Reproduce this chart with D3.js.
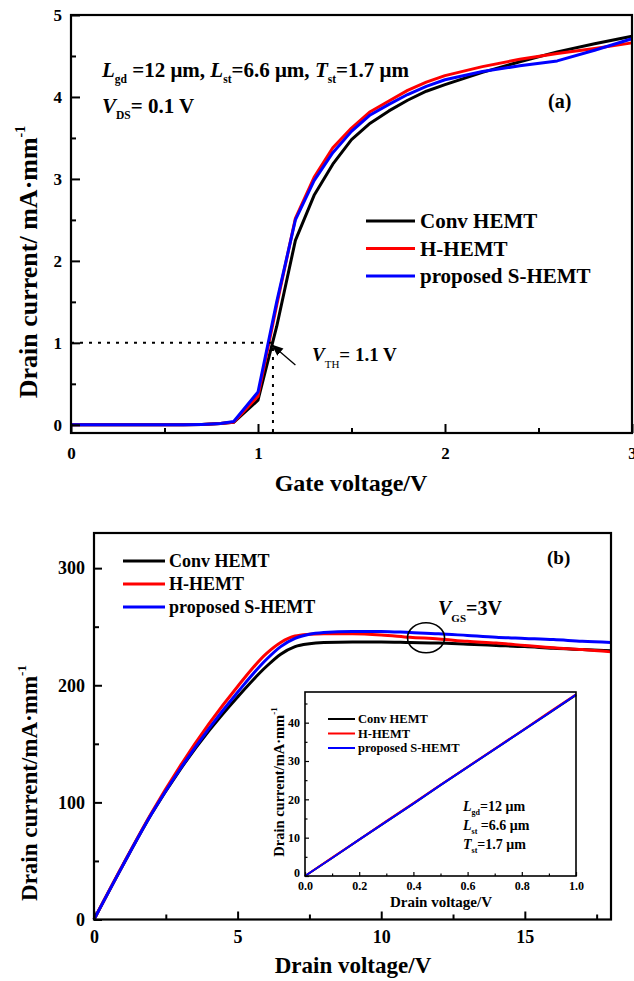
<!DOCTYPE html>
<html>
<head>
<meta charset="utf-8">
<script src="https://cdn.jsdelivr.net/npm/d3@7"></script>
<style>
  html, body { margin: 0; padding: 0; background: #fff; }
  svg { display: block; }
  text { font-family: "Liberation Serif", "Times New Roman", serif; font-weight: bold; fill: #000; }
</style>
</head>
<body>
<svg id="fig" width="634" height="981"></svg>
<script>
// ---- series names ----
const seriesNames = ["Conv HEMT", "H-HEMT", "proposed S-HEMT"];

// ---- (a) transfer characteristics, V_DS = 0.1 V ----
const gateVoltage = [0, 0.2, 0.4, 0.6, 0.7, 0.8, 0.87, 1.0, 1.1, 1.2, 1.3, 1.4, 1.5, 1.6, 1.7, 1.8, 1.9, 2.0, 2.2, 2.4, 2.6, 2.8, 3.0];
const transferConv = [0, 0, 0, 0, 0.005, 0.015, 0.03, 0.30, 1.20, 2.25, 2.80, 3.18, 3.48, 3.68, 3.83, 3.96, 4.07, 4.15, 4.30, 4.43, 4.55, 4.65, 4.74];
const transferH    = [0, 0, 0, 0, 0.005, 0.015, 0.03, 0.35, 1.46, 2.52, 3.02, 3.38, 3.62, 3.82, 3.95, 4.08, 4.18, 4.26, 4.37, 4.46, 4.53, 4.59, 4.66];
const transferS    = [0, 0, 0, 0, 0.005, 0.015, 0.04, 0.40, 1.50, 2.50, 2.98, 3.32, 3.58, 3.78, 3.91, 4.03, 4.13, 4.21, 4.31, 4.38, 4.44, 4.57, 4.71];
const gateTicks = [0, 1, 2, 3];
const transferTicks = [0, 1, 2, 3, 4, 5];
const thresholdV = 1.08;   // V_TH read at 1 mA/mm
const thresholdI = 1;

// ---- (b) output characteristics, V_GS = 3 V ----
const drainVoltage = [0, 1, 2, 3, 4, 5, 6, 6.5, 7, 7.5, 8, 9, 10, 11, 12, 13, 14, 15, 16, 17, 18];
const outputConv = [0, 46, 90, 128, 161, 190, 216, 226.5, 233, 235.5, 236.5, 237, 237, 236.5, 236, 235, 234, 233, 231.5, 230.5, 229.5];
const outputH    = [0, 46.5, 91, 131, 167, 199, 227, 236.5, 242, 243.5, 244, 244, 243, 241, 239.5, 237.5, 236, 234, 232, 230.5, 228.5];
const outputS    = [0, 46, 90, 128.5, 163, 194, 222, 233, 240, 243.5, 245, 246, 246, 245, 244, 242.5, 241, 240, 239, 237.5, 236.5];
const drainTicks = [0, 5, 10, 15];
const outputTicks = [0, 100, 200, 300];

// ---- (b) inset: linear region ----
const insetVoltage = [0, 0.1, 0.2, 0.3, 0.4, 0.5, 0.6, 0.7, 0.8, 0.9, 1.0];
const insetConv = [0, 4.7, 9.5, 14.2, 18.9, 23.7, 28.4, 33.1, 37.8, 42.5, 47.2];
const insetH    = [0, 4.8, 9.5, 14.3, 19.0, 23.8, 28.5, 33.2, 37.9, 42.7, 47.4];
const insetS    = [0, 4.7, 9.5, 14.2, 18.9, 23.7, 28.4, 33.1, 37.8, 42.5, 47.3];
const insetXTicks = [0, 0.2, 0.4, 0.6, 0.8, 1.0];
const insetYTicks = [0, 10, 20, 30, 40];

const lineColors = ["#000000", "#ff0000", "#0000ff"];

const svg = d3.select("#fig");

// Text made of runs: n = normal, i = italic, b = subscript, p = superscript
function richText(parent, x, y, runs, size, opts = {}) {
  const t = parent.append("text").attr("x", x).attr("y", y).attr("font-size", size);
  if (opts.anchor) t.attr("text-anchor", opts.anchor);
  if (opts.transform) t.attr("transform", opts.transform);
  let shift = 0;
  const subSize = opts.subSize || Math.round(size * 0.58);
  const subDy = opts.subDy || size * 0.3;
  const supDy = opts.supDy || -size * 0.45;
  runs.forEach(([str, kind]) => {
    const s = t.append("tspan").text(str);
    let target = 0;
    if (kind === "b") { target = subDy; s.attr("font-size", subSize); if (opts.subWeight) s.attr("font-weight", opts.subWeight); }
    else if (kind === "p") { target = supDy; s.attr("font-size", subSize); }
    if (kind === "i") s.attr("font-style", "italic");
    if (target !== shift) { s.attr("dy", target - shift); shift = target; }
  });
  return t;
}

function frameAxes(g, x, y, o) {
  const [x0, x1] = x.range();
  const [y0, y1] = y.range();
  // minor ticks
  g.append("g").attr("transform", `translate(0,${y0})`)
    .call(d3.axisBottom(x).tickValues(o.xMinor).tickSize(-o.minor).tickFormat(""))
    .call(s => s.select(".domain").remove())
    .selectAll("line").attr("stroke-width", o.tickW);
  g.append("g").attr("transform", `translate(${x0},0)`)
    .call(d3.axisLeft(y).tickValues(o.yMinor).tickSize(-o.minor).tickFormat(""))
    .call(s => s.select(".domain").remove())
    .selectAll("line").attr("stroke-width", o.tickW);
  // major ticks with labels
  const xa = g.append("g").attr("transform", `translate(0,${y0})`)
    .call(d3.axisBottom(x).tickValues(o.xTicks).tickSize(-o.major).tickPadding(o.xPad).tickFormat(o.xFmt));
  xa.select(".domain").remove();
  xa.selectAll("line").attr("stroke-width", o.tickW);
  xa.selectAll("text").attr("font-size", o.font).attr("font-family", null).style("fill", "#000");
  const ya = g.append("g").attr("transform", `translate(${x0},0)`)
    .call(d3.axisLeft(y).tickValues(o.yTicks).tickSize(-o.major).tickPadding(o.yPad).tickFormat(o.yFmt));
  ya.select(".domain").remove();
  ya.selectAll("line").attr("stroke-width", o.tickW);
  ya.selectAll("text").attr("font-size", o.font).attr("font-family", null).style("fill", "#000");
  // frame
  g.append("rect").attr("x", x0).attr("y", y1).attr("width", x1 - x0).attr("height", y0 - y1)
    .attr("fill", "none").attr("stroke", "#000").attr("stroke-width", o.frameW);
  return { xa, ya };
}

function legend(g, x, y, step, len, gap, size, lw) {
  seriesNames.forEach((name, i) => {
    g.append("line").attr("x1", x).attr("x2", x + len).attr("y1", y + i * step).attr("y2", y + i * step)
      .attr("stroke", lineColors[i]).attr("stroke-width", lw);
    g.append("text").attr("x", x + len + gap).attr("y", y + i * step).attr("dy", "0.35em")
      .attr("font-size", size).text(name);
  });
}

// =================== panel (a) ===================
{
  const g = svg.append("g");
  const x = d3.scaleLinear().domain([0, 3]).range([71, 632]);
  const y = d3.scaleLinear().domain([-0.1, 5]).range([433, 15]);

  const series = [transferConv, transferH, transferS];
  const line = d3.line().x((d, i) => x(gateVoltage[i])).y(d => y(d));
  series.forEach((s, k) => {
    g.append("path").attr("d", line(s)).attr("fill", "none")
      .attr("stroke", lineColors[k]).attr("stroke-width", 3).attr("stroke-linejoin", "round");
  });

  // threshold guide lines
  g.append("path")
    .attr("d", `M${x(0)},${y(thresholdI)}H${x(thresholdV)}V${y(-0.1)}`)
    .attr("fill", "none").attr("stroke", "#000").attr("stroke-width", 2).attr("stroke-dasharray", "3,6");

  frameAxes(g, x, y, {
    xTicks: gateTicks, yTicks: transferTicks,
    xMinor: [0.5, 1.5, 2.5], yMinor: [0.5, 1.5, 2.5, 3.5, 4.5],
    major: 9, minor: 5, tickW: 2, frameW: 2.2, font: 17, xPad: 14, yPad: 9,
    xFmt: d3.format("d"), yFmt: d3.format("d")
  });

  // arrow to the threshold point
  const defs = svg.append("defs");
  defs.append("marker").attr("id", "arr").attr("viewBox", "0 0 10 10").attr("refX", 9).attr("refY", 5)
    .attr("markerWidth", 9).attr("markerHeight", 9).attr("orient", "auto")
    .append("path").attr("d", "M0,1L10,5L0,9Z").attr("fill", "#000");
  g.append("line")
    .attr("x1", x(1.20)).attr("y1", y(0.73)).attr("x2", x(1.077)).attr("y2", y(0.97))
    .attr("stroke", "#000").attr("stroke-width", 1.3).attr("marker-end", "url(#arr)");

  richText(g, 312, 361, [["V", "i"], ["TH", "b"], ["= 1.1 V", "n"]], 19, { subSize: 11, subDy: 7, subWeight: "normal" });

  richText(g, 102, 77, [["L", "i"], ["gd", "b"], [" =12 μm, ", "n"], ["L", "i"], ["st", "b"], ["=6.6 μm, ", "n"],
    ["T", "i"], ["st", "b"], ["=1.7 μm", "n"]], 21, { subSize: 11.5, subDy: 6 });
  richText(g, 102, 113, [["V", "i"], ["DS", "b"], ["= 0.1 V", "n"]], 21, { subSize: 11.5, subDy: 6 });
  g.append("text").attr("x", 548).attr("y", 108).attr("font-size", 20).text("(a)");

  legend(g, 366, 221, 27.5, 49, 5, 21, 3);

  g.append("text").attr("x", 351).attr("y", 491).attr("text-anchor", "middle").attr("font-size", 24).text("Gate voltage/V");
  richText(g, 0, 0, [["Drain current/ mA·mm", "n"], ["-1", "p"]], 26,
    { anchor: "middle", transform: "translate(37,262) rotate(-90)", subSize: 14, supDy: -12 });
}

// =================== panel (b) ===================
{
  const g = svg.append("g");
  const x = d3.scaleLinear().domain([0, 18]).range([94, 611]);
  const y = d3.scaleLinear().domain([0, 330]).range([919.5, 533]);

  const series = [outputConv, outputH, outputS];
  const line = d3.line().x((d, i) => x(drainVoltage[i])).y(d => y(d)).curve(d3.curveMonotoneX);
  series.forEach((s, k) => {
    g.append("path").attr("d", line(s)).attr("fill", "none")
      .attr("stroke", lineColors[k]).attr("stroke-width", 3).attr("stroke-linejoin", "round");
  });

  frameAxes(g, x, y, {
    xTicks: drainTicks, yTicks: outputTicks,
    xMinor: [2.5, 7.5, 12.5, 17.5], yMinor: [50, 150, 250],
    major: 8, minor: 5, tickW: 2, frameW: 2.2, font: 18, xPad: 11, yPad: 9,
    xFmt: d3.format("d"), yFmt: d3.format("d")
  });

  // V_GS marker ellipse
  g.append("ellipse").attr("cx", x(11.56)).attr("cy", y(240.6)).attr("rx", 18.5).attr("ry", 15)
    .attr("fill", "none").attr("stroke", "#000").attr("stroke-width", 1.6);
  richText(g, 438, 615, [["V", "i"], ["GS", "b"], ["=3V", "n"]], 20, { subSize: 11, subDy: 7 });
  g.append("text").attr("x", 547).attr("y", 564).attr("font-size", 19).text("(b)");

  legend(g, 123, 561, 23, 42, 4, 18, 3);

  g.append("text").attr("x", 353).attr("y", 973).attr("text-anchor", "middle").attr("font-size", 23).text("Drain voltage/V");
  richText(g, 0, 0, [["Drain current/mA·mm", "n"], ["-1", "p"]], 23,
    { anchor: "middle", transform: "translate(37,783) rotate(-90)", subSize: 13, supDy: -11 });

  // ---- inset ----
  const ig = svg.append("g");
  const ix = d3.scaleLinear().domain([0, 1]).range([305, 576]);
  const iy = d3.scaleLinear().domain([0, 48]).range([876, 692]);
  ig.append("rect").attr("x", 305).attr("y", 692).attr("width", 271).attr("height", 184).attr("fill", "#fff");
  const iline = d3.line().x((d, i) => ix(insetVoltage[i])).y(d => iy(d));
  [insetConv, insetH, insetS].forEach((s, k) => {
    ig.append("path").attr("d", iline(s)).attr("fill", "none")
      .attr("stroke", lineColors[k]).attr("stroke-width", 2);
  });
  const iax = frameAxes(ig, ix, iy, {
    xTicks: insetXTicks, yTicks: insetYTicks,
    xMinor: [0.1, 0.3, 0.5, 0.7, 0.9], yMinor: [5, 15, 25, 35, 45],
    major: 4, minor: 2.5, tickW: 1.2, frameW: 1.6, font: 12, xPad: 5, yPad: 5,
    xFmt: d3.format(".1f"), yFmt: d3.format("d")
  });
  // lift the y "0" label clear of the "0.0" below it
  iax.ya.selectAll("text").filter(d => d === 0).attr("dy", "0.05em");
  legend(ig, 328, 719, 14.5, 27, 3, 12.5, 2);
  richText(ig, 463, 811, [["L", "i"], ["gd", "b"], ["=12 μm", "n"]], 14, { subSize: 8, subDy: 4 });
  richText(ig, 463, 830, [["L", "i"], ["st", "b"], [" =6.6 μm", "n"]], 14, { subSize: 8, subDy: 4 });
  richText(ig, 463, 849, [["T", "i"], ["st", "b"], ["=1.7 μm", "n"]], 14, { subSize: 8, subDy: 4 });
  ig.append("text").attr("x", 441).attr("y", 907).attr("text-anchor", "middle").attr("font-size", 15).text("Drain voltage/V");
  richText(ig, 0, 0, [["Drain current/mA·mm", "n"], ["-1", "p"]], 14.5,
    { anchor: "middle", transform: "translate(284,782) rotate(-90)", subSize: 9, supDy: -7 });
}
</script>
</body>
</html>
